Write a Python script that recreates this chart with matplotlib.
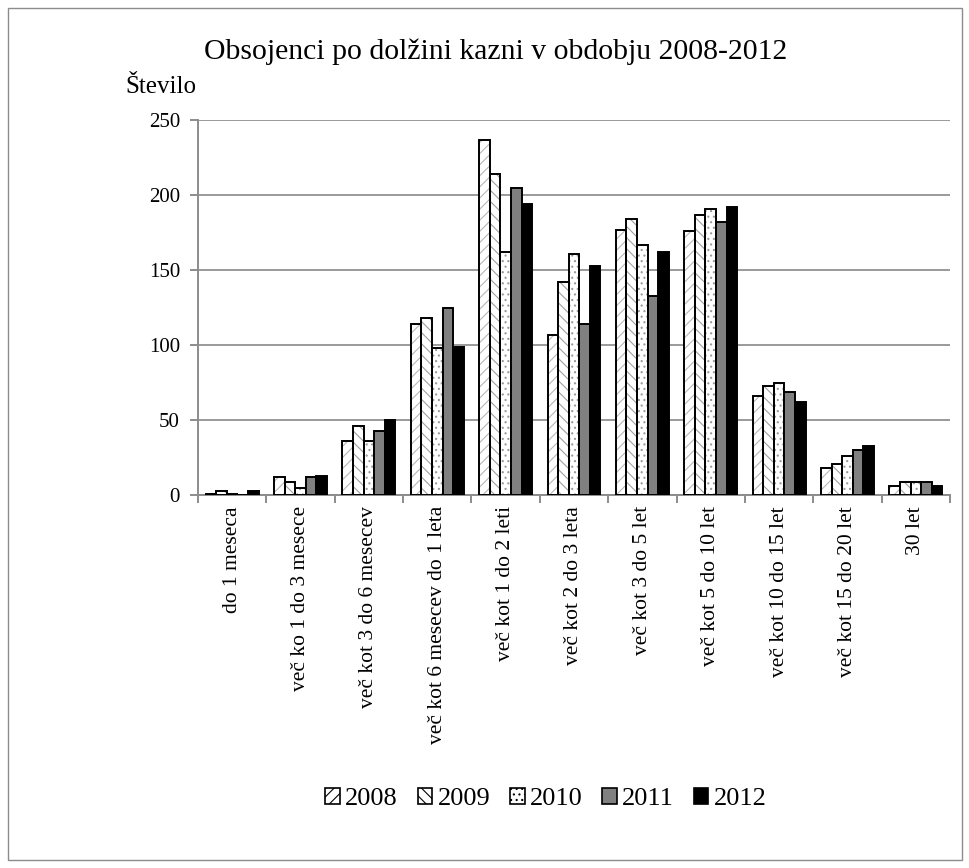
import numpy as np
import matplotlib
matplotlib.use('Agg')
import matplotlib.pyplot as plt
from matplotlib.patches import Rectangle, Patch

plt.rcParams['font.family'] = ['Liberation Serif', 'DejaVu Serif']
plt.rcParams['hatch.linewidth'] = 0.8

categories = ['do 1 meseca', 'več ko 1 do 3 mesece', 'več kot 3 do 6 mesecev',
              'več kot 6 mesecev do 1 leta', 'več kot 1 do 2 leti', 'več kot 2 do 3 leta',
              'več kot 3 do 5 let', 'več kot 5 do 10 let', 'več kot 10 do 15 let',
              'več kot 15 do 20 let', '30 let']
years = ['2008', '2009', '2010', '2011', '2012']
v2008 = [1, 12, 36, 114, 237, 107, 177, 176, 66, 18, 6]
v2009 = [3, 9, 46, 118, 214, 142, 184, 187, 73, 21, 9]
v2010 = [1, 5, 36, 98, 162, 161, 167, 191, 75, 26, 9]
v2011 = [0, 12, 43, 125, 205, 114, 133, 182, 69, 30, 9]
v2012 = [3, 13, 50, 99, 194, 153, 162, 192, 62, 33, 6]
series = [v2008, v2009, v2010, v2011, v2012]

faces = ['white', 'white', 'white', '#808080', 'black']
hatches = ['///', '\\\\\\', '...', None, None]
hatch_cols = ['#b8b8b8', '#a0a0a0', '#9a9a9a', None, None]

fig = plt.figure(figsize=(9.7, 8.68), dpi=100)
fig.patches.append(Rectangle((0.008, 0.009), 0.984, 0.982, transform=fig.transFigure,
                             fill=False, edgecolor='#8c8c8c', linewidth=1.0))
ax = fig.add_axes([198/970, 1-495/868, 752/970, 375/868])

x = np.arange(len(categories))
w = 0.155
for i, vals in enumerate(series):
    pos = x + (i - 2) * w
    if hatches[i]:
        ax.bar(pos, vals, w, color=faces[i], edgecolor=hatch_cols[i], hatch=hatches[i],
               linewidth=0, zorder=3)
    ax.bar(pos, vals, w, facecolor='none' if hatches[i] else faces[i],
           edgecolor='black', linewidth=1.4, zorder=4)

ax.set_xlim(-0.5, len(categories) - 0.5)
ax.set_ylim(0, 250)
ax.set_yticks(range(0, 251, 50))
ax.yaxis.grid(True, color='#9a9a9a', linewidth=1.4, zorder=0)
ax.set_axisbelow(True)
for s in ['top', 'right']:
    ax.spines[s].set_visible(False)
for s in ['left', 'bottom']:
    ax.spines[s].set_color('#8c8c8c')
    ax.spines[s].set_linewidth(1.4)

# ticks between categories, labels centred under each group
ax.set_xticks(np.arange(len(categories) + 1) - 0.5)
ax.set_xticklabels([])
ax.set_xticks(x, minor=True)
ax.set_xticklabels(categories, minor=True, rotation=90, fontsize=15.5, va='top')
ax.tick_params(axis='x', which='minor', length=0, pad=8)
ax.tick_params(axis='x', which='major', length=6, color='#8c8c8c', width=1.4)
ax.tick_params(axis='y', length=6, color='#8c8c8c', width=1.4, labelsize=15, pad=7)

fig.text(496/970, 1-52/868, 'Obsojenci po dolžini kazni v obdobju 2008-2012',
         ha='center', va='center', fontsize=21.4)
fig.text(125/970, 1-87/868, 'Število', ha='left', va='center', fontsize=18)

handles = []
for i in range(5):
    handles.append(Patch(facecolor=faces[i], edgecolor='black', hatch=hatches[i],
                         linewidth=1.2))
fig.legend(handles, years, loc='center', bbox_to_anchor=(546/970, 1-799/868), ncol=5,
           frameon=False, fontsize=19, handlelength=0.55, handleheight=0.55,
           handletextpad=0.2, columnspacing=0.75)

fig.savefig('out.png', dpi=100)
